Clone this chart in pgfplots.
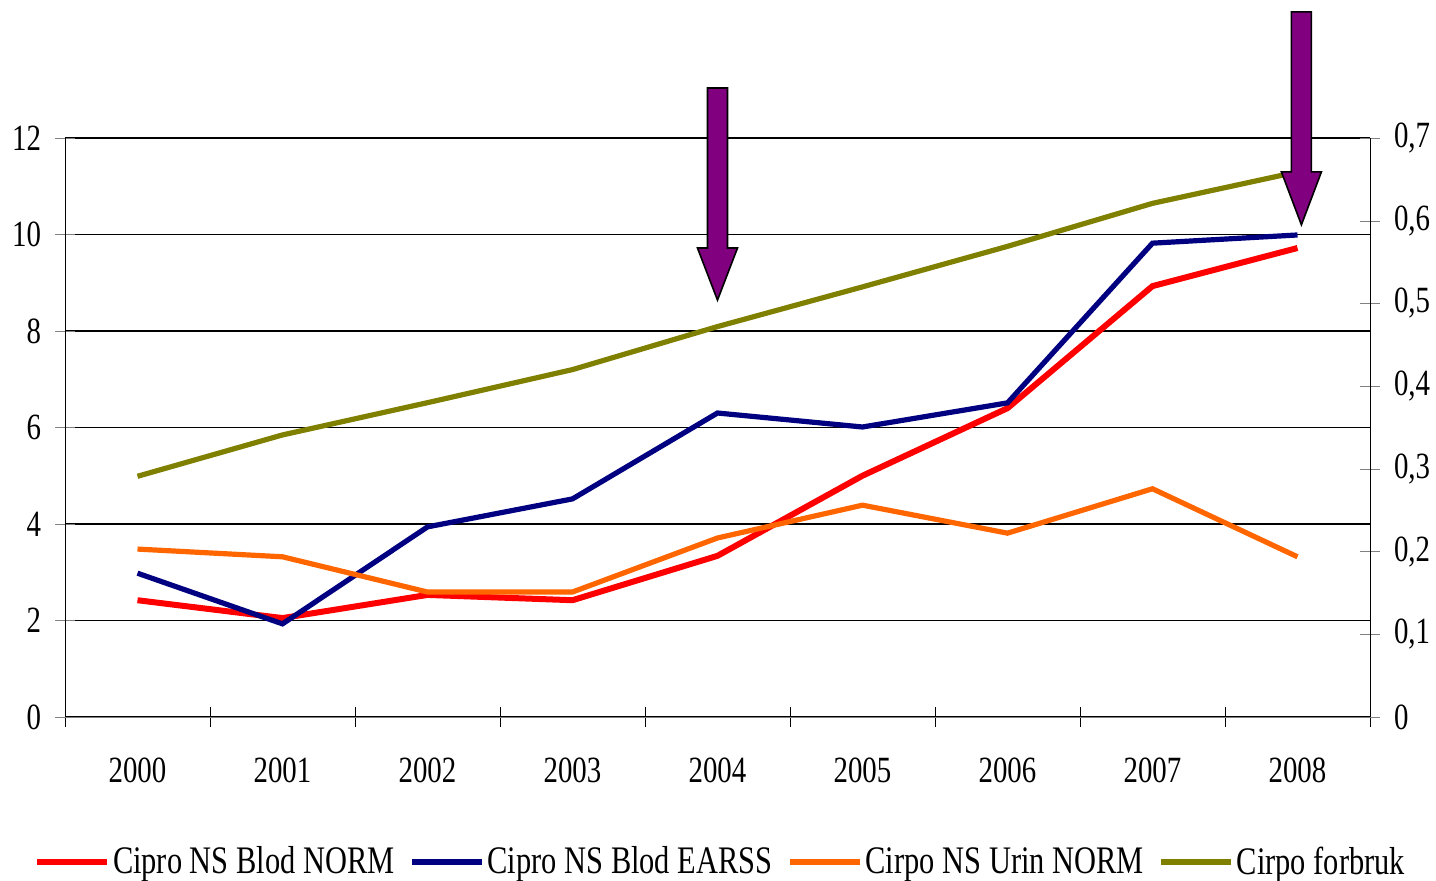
\documentclass[border=0pt]{standalone}
\usepackage{pgfplots}
\pgfplotsset{compat=1.18}
\usepackage{fontspec}
\setmainfont{Liberation Serif}[FakeStretch=0.78]
\definecolor{cred}{RGB}{255,0,0}
\definecolor{cblue}{RGB}{0,0,128}
\definecolor{corange}{RGB}{255,102,0}
\definecolor{colive}{RGB}{128,128,0}
\definecolor{cpurple}{RGB}{128,0,128}
\begin{document}
\begin{tikzpicture}
\useasboundingbox (0,0) rectangle (718pt,440.5pt);
\pgfplotsset{
  common/.style={
    at={(32.5pt,82pt)}, anchor=south west, scale only axis,
    width=652.5pt, height=289.5pt,
    xmin=-0.5, xmax=8.5,
    tick align=center, major tick length=10pt, minor tick length=10pt,
    /pgf/number format/assume math mode=true,
    ticklabel style={font=\fontsize{18.5}{20}\selectfont},
    clip=false,
  }
}
\begin{axis}[common,
  ymin=0, ymax=12,
  axis x line*=bottom, axis y line*=left,
  x axis line style={-, draw=gray},
  y axis line style={-, draw=black},
  ytick={0,2,4,6,8,10,12},
  xtick={0,1,2,3,4,5,6,7,8},
  xticklabels={2000,2001,2002,2003,2004,2005,2006,2007,2008},
  major x tick style={draw=none},
  minor xtick={-0.5,0.5,1.5,2.5,3.5,4.5,5.5,6.5,7.5,8.5},
  minor x tick style={draw=black},
  xticklabel style={yshift=-12pt},
  yticklabel style={xshift=-3.5pt},
  ymajorgrids, grid style={black, line width=0.6pt},
]
\addplot[cred, line width=3pt] coordinates {(0,2.42)(1,2.05)(2,2.53)(3,2.42)(4,3.34)(5,5.0)(6,6.4)(7,8.93)(8,9.72)};
\addplot[cblue, line width=2.6pt] coordinates {(0,2.98)(1,1.93)(2,3.94)(3,4.52)(4,6.30)(5,6.01)(6,6.51)(7,9.82)(8,9.99)};
\addplot[corange, line width=2.6pt] coordinates {(0,3.48)(1,3.32)(2,2.59)(3,2.59)(4,3.71)(5,4.39)(6,3.81)(7,4.73)(8,3.32)};
\end{axis}
\begin{axis}[common,
  ymin=0, ymax=0.7,
  axis x line=none, axis y line*=right,
  y axis line style={-, draw=black},
  ytick={0,0.1,0.2,0.3,0.4,0.5,0.6,0.7},
  yticklabels={0,{0,1},{0,2},{0,3},{0,4},{0,5},{0,6},{0,7}},
  yticklabel style={xshift=3.5pt},
  legend columns=4,
  legend style={draw=none, at={(0.5027,-0.2504)}, anchor=center,
    font=\fontsize{19.5}{21}\selectfont,
    /tikz/every even column/.append style={column sep=6pt},
    nodes={inner sep=1.5pt}},
  legend image code/.code={\draw[#1] (0pt,0pt) -- (35pt,0pt);},
]
\addlegendimage{cred, line width=3pt}
\addlegendentry{Cipro NS Blod NORM}
\addlegendimage{cblue, line width=2.6pt}
\addlegendentry{Cipro NS Blod EARSS}
\addlegendimage{corange, line width=2.6pt}
\addlegendentry{Cirpo NS Urin NORM}
\addplot[colive, line width=2.6pt] coordinates {(0,0.291)(1,0.341)(2,0.380)(3,0.420)(4,0.472)(5,0.520)(6,0.569)(7,0.621)(8,0.659)};
\addlegendentry{Cirpo forbruk}
\filldraw[fill=cpurple, draw=black, line width=0.8pt]
  (axis cs:3.931,0.7605) -- (axis cs:4.069,0.7605) -- (axis cs:4.069,0.567) -- (axis cs:4.138,0.567)
  -- (axis cs:4,0.504) -- (axis cs:3.862,0.567) -- (axis cs:3.931,0.567) -- cycle;
\filldraw[fill=cpurple, draw=black, line width=0.8pt]
  (axis cs:7.958,0.8524) -- (axis cs:8.096,0.8524) -- (axis cs:8.096,0.659) -- (axis cs:8.165,0.659)
  -- (axis cs:8.027,0.595) -- (axis cs:7.889,0.659) -- (axis cs:7.958,0.659) -- cycle;
\end{axis}
\end{tikzpicture}
\end{document}
